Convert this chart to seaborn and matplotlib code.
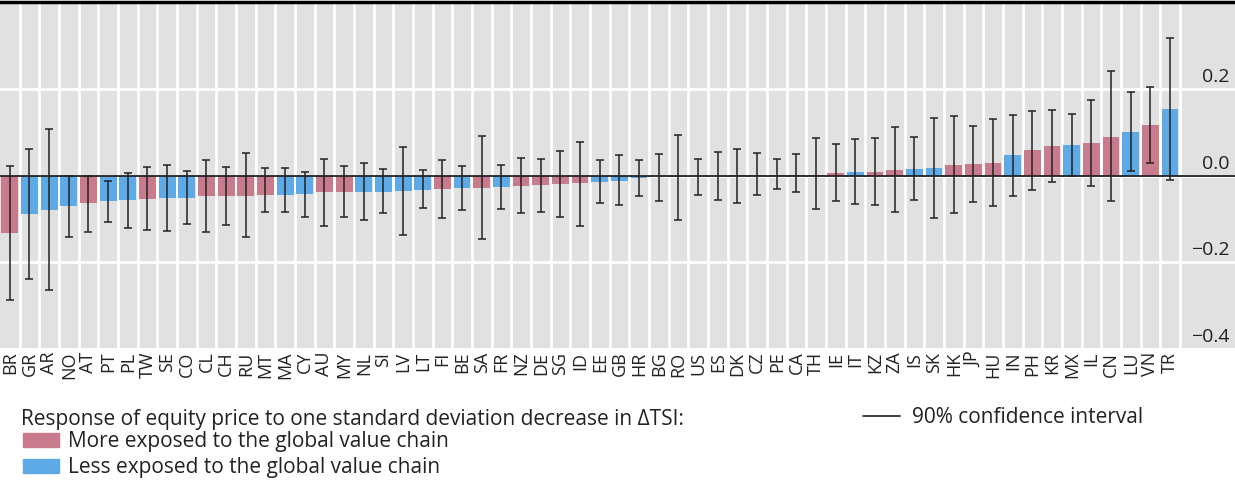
import numpy as np
import pandas as pd
import matplotlib
matplotlib.use("Agg")
import matplotlib.pyplot as plt
from matplotlib.patches import Patch
from matplotlib.lines import Line2D
from matplotlib.transforms import ScaledTranslation
import seaborn as sns

# country codes, sorted by response
countries = ["BR", "GR", "AR", "NO", "AT", "PT", "PL", "TW", "SE", "CO",
             "CL", "CH", "RU", "MT", "MA", "CY", "AU", "MY", "NL", "SI",
             "LV", "LT", "FI", "BE", "SA", "FR", "NZ", "DE", "SG", "ID",
             "EE", "GB", "HR", "BG", "RO", "US", "ES", "DK", "CZ", "PE",
             "CA", "TH", "IE", "IT", "KZ", "ZA", "IS", "SK", "HK", "JP",
             "HU", "IN", "PH", "KR", "MX", "IL", "CN", "LU", "VN", "TR"]

# M = more exposed to the global value chain, L = less exposed
exposure = ["M", "L", "L", "L", "M", "L", "L", "M", "L", "L",
            "M", "M", "M", "M", "L", "L", "M", "M", "L", "L",
            "L", "L", "M", "L", "M", "L", "M", "M", "M", "M",
            "L", "L", "L", "M", "L", "L", "M", "L", "M", "L",
            "M", "M", "M", "L", "M", "M", "L", "L", "M", "M",
            "M", "L", "M", "M", "L", "M", "M", "L", "M", "L"]

response = [-0.133, -0.088, -0.079, -0.071, -0.064, -0.059, -0.057, -0.054, -0.052, -0.051,
            -0.048, -0.048, -0.046, -0.044, -0.044, -0.043, -0.038, -0.037, -0.037, -0.037,
            -0.035, -0.033, -0.031, -0.029, -0.028, -0.027, -0.023, -0.021, -0.020, -0.018,
            -0.015, -0.012, -0.005, -0.002, -0.003, 0.000, 0.000, 0.001, 0.001, 0.001,
            0.002, 0.002, 0.005, 0.008, 0.008, 0.012, 0.015, 0.018, 0.025, 0.027,
            0.029, 0.047, 0.058, 0.069, 0.070, 0.075, 0.090, 0.100, 0.116, 0.153]

ci_high = [0.021, 0.061, 0.107, 0.000, 0.000, -0.012, 0.007, 0.019, 0.024, 0.011,
           0.035, 0.020, 0.052, 0.017, 0.018, 0.008, 0.039, 0.021, 0.028, 0.015,
           0.065, 0.012, 0.035, 0.022, 0.091, 0.025, 0.040, 0.039, 0.056, 0.077,
           0.035, 0.047, 0.035, 0.050, 0.093, 0.039, 0.054, 0.062, 0.052, 0.038,
           0.049, 0.087, 0.072, 0.084, 0.087, 0.112, 0.090, 0.133, 0.138, 0.115,
           0.130, 0.139, 0.150, 0.151, 0.143, 0.175, 0.241, 0.192, 0.205, 0.318]

ci_low = [-0.286, -0.238, -0.264, -0.142, -0.130, -0.106, -0.122, -0.126, -0.129, -0.112,
          -0.130, -0.114, -0.142, -0.085, -0.085, -0.096, -0.116, -0.096, -0.102, -0.087,
          -0.136, -0.074, -0.097, -0.080, -0.146, -0.078, -0.087, -0.083, -0.095, -0.116,
          -0.064, -0.068, -0.048, -0.058, -0.102, -0.044, -0.057, -0.063, -0.045, -0.031,
          -0.039, -0.076, -0.059, -0.065, -0.067, -0.083, -0.057, -0.098, -0.087, -0.061,
          -0.070, -0.046, -0.034, -0.014, -0.002, -0.023, -0.059, 0.010, 0.028, -0.011]

PINK = "#c97b8e"
BLUE = "#5daae6"
BG = "#e1e1e1"
INK = "#222222"

df = pd.DataFrame({"country": countries, "group": exposure, "value": response,
                   "lo": ci_low, "hi": ci_high})

sns.set_style("white", {"axes.facecolor": BG})
plt.rcParams["font.family"] = ["Open Sans", "DejaVu Sans"]

fig = plt.figure(figsize=(12.35, 4.82), dpi=100)
ax = fig.add_axes([0.0, 0.276, 1.0, 0.7195])

sns.barplot(data=df, x="country", y="value", hue="group", order=countries,
            palette={"M": PINK, "L": BLUE}, dodge=False, width=0.85,
            saturation=1, linewidth=0, legend=False, ax=ax, zorder=2)

pos = np.arange(len(df))
ax.errorbar(pos, df["value"], yerr=[df["value"] - df["lo"], df["hi"] - df["value"]],
            fmt="none", ecolor=INK, elinewidth=1.1, capsize=3.2, capthick=1.1,
            zorder=4)
ax.axhline(0, color=INK, lw=1.3, zorder=3)

ax.set_xlim(-0.5, 62.3)
ax.set_ylim(-0.4, 0.4)
ax.set_xlabel("")
ax.set_ylabel("")

# white separators between categories and at +/-0.2
ax.set_xticks(pos + 0.5, minor=True)
ax.set_axisbelow(True)
ax.grid(which="minor", axis="x", color="white", lw=2)
ax.set_yticks([-0.4, -0.2, 0.0, 0.2])
ax.set_yticklabels(["\u22120.4", "\u22120.2", "0.0", "0.2"])
ax.grid(which="major", axis="y", color="white", lw=2)

ax.yaxis.tick_right()
ax.tick_params(axis="y", which="both", length=0, pad=-4, labelsize=14,
               labelcolor=INK)
ax.tick_params(axis="x", which="both", length=0, pad=2, labelsize=13,
               labelrotation=90, labelcolor=INK)
lift = ScaledTranslation(0, 2 / 72, fig.dpi_scale_trans)
for tick in ax.yaxis.get_major_ticks():
    tick.label2.set_ha("right")
    tick.label2.set_va("bottom")
    tick.label2.set_transform(tick.label2.get_transform() + lift)

for side in ["left", "right", "bottom"]:
    ax.spines[side].set_visible(False)
ax.spines["top"].set_color("black")
ax.spines["top"].set_linewidth(2.5)

# legend
fig.text(0.017, 0.118, "Response of equity price to one standard deviation decrease in \u0394TSI:",
         fontsize=15, color=INK, va="baseline", ha="left")
fig.legend(handles=[Patch(color=PINK), Patch(color=BLUE)],
           labels=["More exposed to the global value chain", "Less exposed to the global value chain"],
           loc="upper left", bbox_to_anchor=(0.0186, 0.106), frameon=False,
           fontsize=15, handlelength=1.73, handleheight=0.65, handletextpad=0.43,
           labelspacing=0.25, borderaxespad=0, borderpad=0, labelcolor=INK)
fig.legend(handles=[Line2D([], [], color="#333333", lw=1.3)],
           labels=["90% confidence interval"],
           loc="center left", bbox_to_anchor=(0.699, 0.133), frameon=False,
           fontsize=15, handlelength=1.78, handletextpad=0.58,
           borderaxespad=0, borderpad=0, labelcolor=INK)

fig.savefig("out.png", dpi=100, facecolor="white")
